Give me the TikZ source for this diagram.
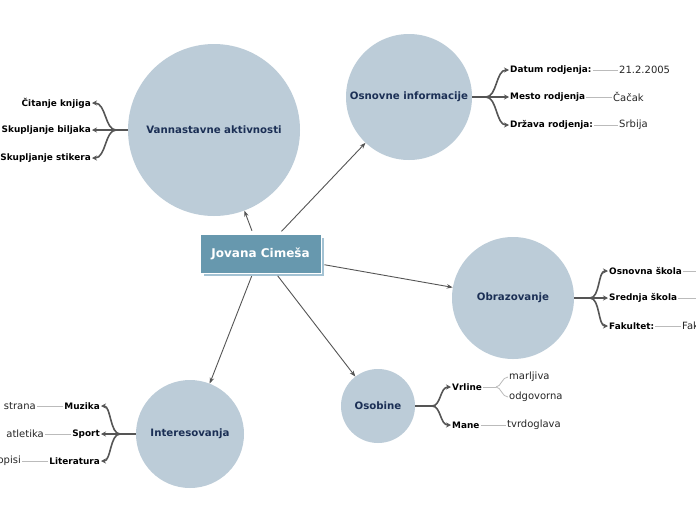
\documentclass[tikz,border=0pt]{standalone}
\usepackage{fontspec}
\setmainfont{DejaVu Sans}
\usetikzlibrary{arrows.meta}
\definecolor{circfill}{HTML}{BCCCD8}
\definecolor{boxfill}{HTML}{6798AE}
\definecolor{boxshadow}{HTML}{A3C2D3}
\definecolor{navy}{HTML}{1B2F55}
\definecolor{linec}{HTML}{555555}
\definecolor{valline}{HTML}{BBBBBB}
\tikzset{
 circ/.style={circle, fill=circfill, draw=none, text=navy, font=\bfseries\fontsize{10.2}{12}\selectfont, inner sep=0pt},
 mainbox/.style={rectangle, fill=boxfill, draw=white, line width=0.8pt, text=white, font=\bfseries\fontsize{12}{14}\selectfont, minimum width=121pt, minimum height=39pt},
 shadowbox/.style={rectangle, fill=boxshadow, draw=white, line width=0.8pt, minimum width=121pt, minimum height=39pt},
 conn/.style={draw=linec, line width=0.9pt, -{Stealth[length=6pt,width=4.5pt]}, shorten <=3pt},
 br/.style={draw=linec, line width=1.6pt},
 brarrow/.style={draw=linec, line width=1.6pt, -{Stealth[length=5pt,width=5pt]}},
 lbl/.style={font=\bfseries\fontsize{8.9}{10}\selectfont, inner sep=1pt, text=black},
 val/.style={font=\fontsize{10}{12}\selectfont, inner sep=1pt, text=black!85},
 vl/.style={draw=valline, line width=0.8pt},
}
\begin{document}
\begin{tikzpicture}[x=1pt,y=-1pt]
\useasboundingbox[fill=white] (0,0) rectangle (696,520);

% circles
\node[circ, minimum size=172pt] (va) at (214,130) {Vannastavne aktivnosti};
\node[circ, minimum size=126pt] (on) at (409,97) {Osnovne informacije};
\node[circ, minimum size=122pt] (ob) at (513,298) {Obrazovanje};
\node[circ, minimum size=74pt] (os) at (378,406) {Osobine};
\node[circ, minimum size=108pt] (in) at (190,434) {Interesovanja};

% central box
\node[shadowbox] (cs) at (263.5,256.5) {};
\node[mainbox] (c) at (260.5,253.5) {Jovana Cimeša};

% connectors from center
\draw[conn] (c) -- (va);
\draw[conn] (c) -- (on);
\draw[conn] (c) -- (ob);
\draw[conn] (c) -- (os);
\draw[conn] (c) -- (in);

% ---- Vannastavne aktivnosti
\node[lbl, anchor=east] (ck) at (92,103) {Čitanje knjiga};
\node[lbl, anchor=east] (sb) at (92,130) {Skupljanje biljaka};
\node[lbl, anchor=east] (ss) at (92,158) {Skupljanje stikera};
\coordinate (vaf) at (116,130);
\draw[br] (va.west) -- (vaf);
\draw[brarrow] (vaf) .. controls (105,130) and (106,103) .. (ck.east);
\draw[brarrow] (vaf) -- (sb.east);
\draw[brarrow] (vaf) .. controls (105,130) and (106,158) .. (ss.east);

% ---- Osnovne informacije
\node[lbl, anchor=west] (dr) at (509,70) {Datum rodjenja:};
\node[lbl, anchor=west] (mr) at (509,97) {Mesto rodjenja};
\node[lbl, anchor=west] (zr) at (509,125) {Država rodjenja:};
\coordinate (onf) at (486,97);
\draw[br] (on.east) -- (onf);
\draw[brarrow] (onf) .. controls (497,97) and (496,70) .. (dr.west);
\draw[brarrow] (onf) -- (mr.west);
\draw[brarrow] (onf) .. controls (497,97) and (496,125) .. (zr.west);
\node[val, anchor=west] (drv) at (618,70) {21.2.2005};
\node[val, anchor=west] (mrv) at (612,97) {Čačak};
\node[val, anchor=west] (zrv) at (618,125) {Srbija};
\draw[vl] (dr.east) -- (drv.west);
\draw[vl] (mr.east) -- (mrv.west);
\draw[vl] (zr.east) -- (zrv.west);

% ---- Obrazovanje
\node[lbl, anchor=west] (osk) at (608,271) {Osnovna škola};
\node[lbl, anchor=west] (ssk) at (608,298) {Srednja škola};
\node[lbl, anchor=west] (fk) at (608,326) {Fakultet:};
\coordinate (obf) at (590,298);
\draw[br] (ob.east) -- (obf);
\draw[brarrow] (obf) .. controls (600,298) and (598,271) .. (osk.west);
\draw[brarrow] (obf) -- (ssk.west);
\draw[brarrow] (obf) .. controls (600,298) and (598,326) .. (fk.west);
\coordinate (oske) at (700,271);
\coordinate (sske) at (700,298);
\node[val, anchor=west] (fkv) at (681,326) {Fak};
\draw[vl] (osk.east) -- (oske);
\draw[vl] (ssk.east) -- (sske);
\draw[vl] (fk.east) -- (fkv.west);

% ---- Osobine
\node[lbl, anchor=west] (vr) at (451,387) {Vrline};
\node[lbl, anchor=west] (mn) at (451,425) {Mane};
\coordinate (osf) at (432,406);
\draw[br] (os.east) -- (osf);
\draw[brarrow] (osf) .. controls (441,406) and (440,387) .. (vr.west);
\draw[brarrow] (osf) .. controls (441,406) and (440,425) .. (mn.west);
\node[val, anchor=west] (mj) at (508,377) {marljiva};
\node[val, anchor=west] (od) at (508,397) {odgovorna};
\node[val, anchor=west] (tv) at (506,425) {tvrdoglava};
\coordinate (vrf) at (496,387);
\draw[vl] (vr.east) -- (vrf);
\draw[vl] (vrf) .. controls (501,387) and (502,377) .. (mj.west);
\draw[vl] (vrf) .. controls (501,387) and (502,397) .. (od.west);
\draw[vl] (mn.east) -- (tv.west);

% ---- Interesovanja
\node[lbl, anchor=east] (mz) at (101,406) {Muzika};
\node[lbl, anchor=east] (sp) at (101,434) {Sport};
\node[lbl, anchor=east] (lt) at (101,461) {Literatura};
\coordinate (inf) at (120,434);
\draw[br] (in.west) -- (inf);
\draw[brarrow] (inf) .. controls (110,434) and (111,406) .. (mz.east);
\draw[brarrow] (inf) -- (sp.east);
\draw[brarrow] (inf) .. controls (110,434) and (111,461) .. (lt.east);
\node[val, anchor=east] (mzv) at (37,406) {strana};
\node[val, anchor=east] (spv) at (45,434) {atletika};
\node[val, anchor=east] (ltv) at (22,461) {opisi};
\draw[vl] (mz.west) -- (mzv.east);
\draw[vl] (sp.west) -- (spv.east);
\draw[vl] (lt.west) -- (ltv.east);
\end{tikzpicture}
\end{document}
